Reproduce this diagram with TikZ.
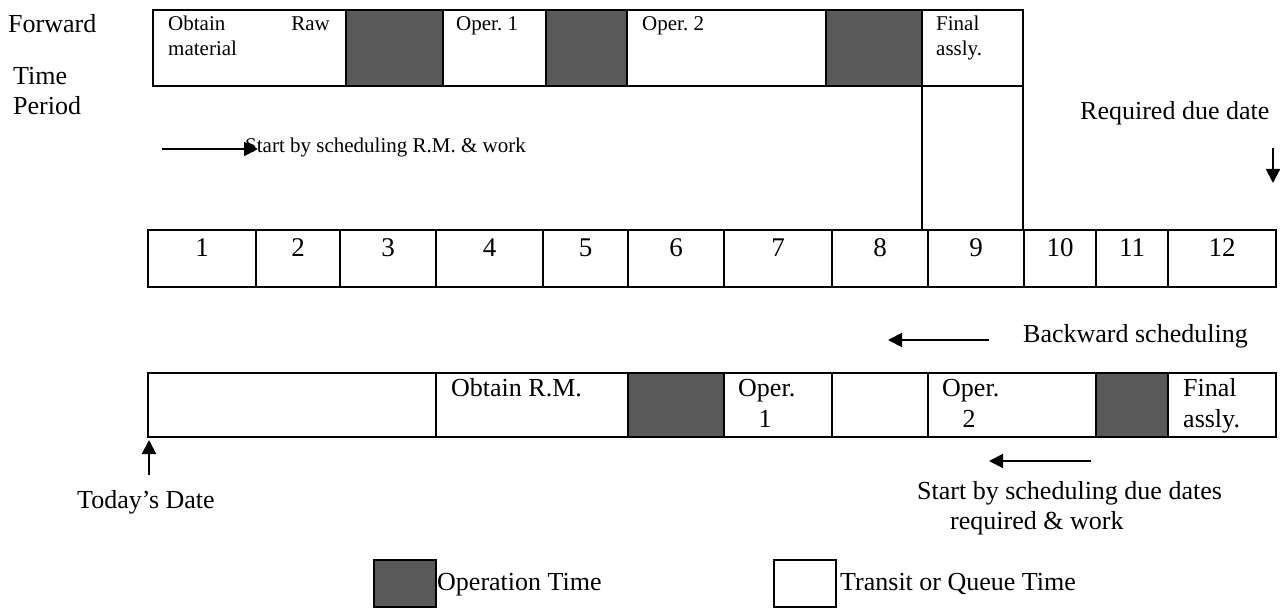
\documentclass[tikz,border=0pt]{standalone}
\usepackage{fontspec}
\setmainfont{Liberation Serif}
\usetikzlibrary{arrows.meta}
\definecolor{opgray}{RGB}{89,89,89}
\frenchspacing
\tikzset{
  txt/.style={font=\fontsize{26}{30}\selectfont, inner sep=0pt, anchor=base west},
  small/.style={font=\fontsize{21}{25}\selectfont, inner sep=0pt, anchor=base west},
  numtxt/.style={font=\fontsize{27}{30}\selectfont, inner sep=0pt, anchor=base},
  qbox/.style={draw, line width=2pt, fill=white},
  opbox/.style={draw, line width=2pt, fill=opgray},
  arr/.style={-{Triangle[length=14pt,width=14pt]}, line width=2pt}
}
\begin{document}
\begin{tikzpicture}[x=1pt,y=-1pt]
            \useasboundingbox (0,0) rectangle (1280,609);
            % left labels
            \node[txt] (fwd) at (8,33) {Forward};
            \node[txt] (time) at (13,85) {Time};
            \node[txt] (period) at (13,115) {Period};
            % forward scheduling bar
            \draw[qbox] (153,10) rectangle (346,86);
            \draw[opbox] (346,10) rectangle (443,86);
            \draw[qbox] (443,10) rectangle (546,86);
            \draw[opbox] (546,10) rectangle (627,86);
            \draw[qbox] (627,10) rectangle (826,86);
            \draw[opbox] (826,10) rectangle (922,86);
            \draw[qbox] (922,10) rectangle (1023,86);
            \draw[qbox] (922,86) rectangle (1023,230);
            \node[small] (obtain) at (168,31) {Obtain};
            \node[small,anchor=base east] (raw) at (330,31) {Raw};
            \node[small] (material) at (168,56) {material};
            \node[small] (oper1) at (456,31) {Oper. 1};
            \node[small] (oper2) at (642,31) {Oper. 2};
            \node[small] (final) at (936,31) {Final};
            \node[small] (assly) at (936,56) {assly.};
            % forward arrow
            \coordinate (fwdtail) at (162,149);
            \coordinate (fwdtip) at (258,149);
            \draw[arr] (fwdtail) -- (fwdtip);
            \node[small] (startfw) at (245,153) {Start by scheduling R.M. \& work};
            % due date
            \node[txt] (duedate) at (1080,120) {Required due date};
            \coordinate (duetail) at (1273,148);
            \coordinate (duetip) at (1273,183);
            \draw[arr] (duetail) -- (duetip);
            % time periods
            \foreach \a/\b/\n in {148/256/1,256/340/2,340/436/3,436/543/4,543/628/5,628/724/6,
                                  724/832/7,832/928/8,928/1024/9,1024/1096/10,1096/1168/11,1168/1276/12} {
              \draw[qbox] (\a,230) rectangle (\b,287);
              \node[numtxt] (p\n) at ({(\a+\b)/2},257) {\n};
            }
            % backward scheduling
            \node[txt] (backward) at (1023,343) {Backward scheduling};
            \coordinate (backtail) at (989,340);
            \coordinate (backtip) at (888,340);
            \draw[arr] (backtail) -- (backtip);
            \draw[qbox] (148,373) rectangle (436,437);
            \draw[qbox] (436,373) rectangle (628,437);
            \draw[opbox] (628,373) rectangle (724,437);
            \draw[qbox] (724,373) rectangle (832,437);
            \draw[qbox] (832,373) rectangle (928,437);
            \draw[qbox] (928,373) rectangle (1096,437);
            \draw[opbox] (1096,373) rectangle (1168,437);
            \draw[qbox] (1168,373) rectangle (1276,437);
            \node[txt] (obtainrm) at (451,397) {Obtain R.M.};
            \node[txt] (operA) at (738,397) {Oper.};
            \node[txt,anchor=base] (operAn) at (765,428) {1};
            \node[txt] (operB) at (942,397) {Oper.};
            \node[txt,anchor=base] (operBn) at (969,428) {2};
            \node[txt] (finalB) at (1183,397) {Final};
            \node[txt] (asslyB) at (1183,428) {assly.};
            % backward arrow and today
            \coordinate (bwdtail) at (1091,461);
            \coordinate (bwdtip) at (989,461);
            \draw[arr] (bwdtail) -- (bwdtip);
            \node[txt] (startbw) at (917,499) {Start by scheduling due dates};
            \node[txt] (startbw2) at (950,529) {required \& work};
            \coordinate (todaytail) at (149,475);
            \coordinate (todaytip) at (149,440);
            \draw[arr] (todaytail) -- (todaytip);
            \node[txt] (today) at (77,508) {Today's Date};
            % legend
            \draw[opbox] (374,560) rectangle (436,607);
            \node[txt] (optime) at (437,590) {Operation Time};
            \draw[qbox] (774,560) rectangle (836,607);
            \node[txt] (qtime) at (840,590) {Transit or Queue Time};
\end{tikzpicture}
\end{document}
